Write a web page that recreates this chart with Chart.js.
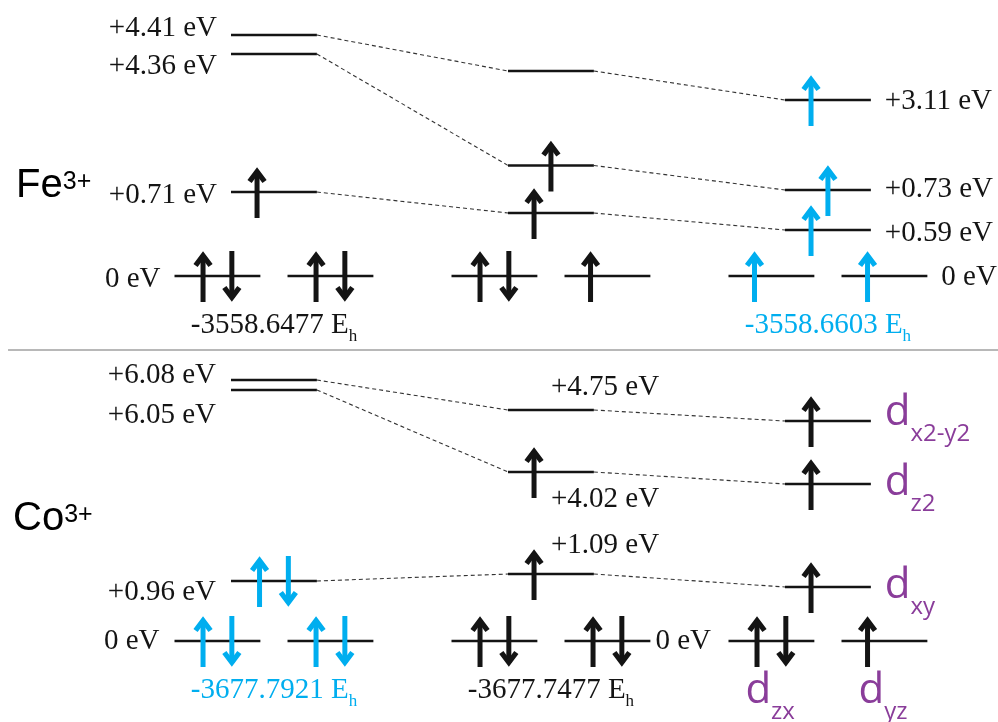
<!DOCTYPE html>
<html>
<head>
<meta charset="utf-8">
<script src="https://cdn.jsdelivr.net/npm/chart.js@4.4.0/dist/chart.umd.min.js"></script>
<style>
  html, body { margin: 0; padding: 0; background: #fff; }
  canvas { display: block; }
</style>
</head>
<body>
<canvas id="diagram" width="998" height="722"></canvas>
<script>
// ===== Fe3+ : d-levels, three columns, each listed top to bottom =====
const feLevelLabels = ['+4.41 eV', '+4.36 eV', '+0.71 eV', '0 eV', '',
                       '', '', '', '', '',
                       '+3.11 eV', '+0.73 eV', '+0.59 eV', '', '0 eV'];
const feUp    = [0, 0, 1, 1, 1,  0, 1, 1, 1, 1,  1, 1, 1, 1, 1];   // spin-up electrons
const feDown  = [0, 0, 0, 1, 1,  0, 0, 0, 1, 0,  0, 0, 0, 0, 0];   // spin-down electrons
const feLinks = [[0, 5], [5, 10], [1, 6], [6, 11], [2, 7], [7, 12]];
const feTotals = ['-3558.6477 E', '', '-3558.6603 E'];

// ===== Co3+ =====
const coLevelLabels = ['+6.08 eV', '+6.05 eV', '+0.96 eV', '0 eV', '',
                       '+4.75 eV', '+4.02 eV', '+1.09 eV', '', '0 eV',
                       '', '', '', '', ''];
const coOrbitals = ['', '', '', '', '',  '', '', '', '', '',
                    'x2-y2', 'z2', 'xy', 'zx', 'yz'];
const coUp    = [0, 0, 1, 1, 1,  0, 1, 1, 1, 1,  1, 1, 1, 1, 1];
const coDown  = [0, 0, 1, 1, 1,  0, 0, 0, 1, 1,  0, 0, 0, 1, 0];
const coLinks = [[0, 5], [5, 10], [1, 6], [6, 11], [2, 7], [7, 12]];
const coTotals = ['-3677.7921 E', '-3677.7477 E', ''];

// ===== layout (diagram units: x = column, y = schematic height above the 0 eV line) =====
const feColumn = [1, 1, 1, 1, 1,  2, 2, 2, 2, 2,  3, 3, 3, 3, 3];
const feSlot   = [0, 0, 0, -1, 1, 0, 0, 0, -1, 1, 0, 0, 0, -1, 1];
const feHeight = [24.1, 22.2, 8.4, 0, 0,  20.5, 11.05, 6.3, 0, 0,  17.6, 8.6, 4.6, 0, 0];
const feUpShift = [null, null, null, null, null,  null, 0, null, null, null,  null, 0, null, null, null];
const feLabelSide = ['L', 'L', 'L', 'L', '',  '', '', '', '', '',  'R', 'R', 'R', '', 'R'];
const feLabelDy   = [1, 20, 11, 11, 0,  0, 0, 0, 0, 0,  9, 7, 11, 0, 9];

const coColumn = feColumn;
const coSlot   = feSlot;
const coHeight = [26.1, 25.1, 6.0, 0, 0,  23.1, 16.9, 6.7, 0, 0,  22.0, 15.7, 5.4, 0, 0];
const coUpShift = [null, null, null, null, null,  null, null, null, null, null,  null, null, null, null, null];
const coLabelSide = ['L', 'L', 'L', 'L', '',  'C', 'C', 'C', '', 'R',  'R', 'R', 'R', 'B', 'B'];
const coLabelDy   = [3, 33, 19, 8, 0,  -15, 35, -21, 0, 8,  4, 11, 11, 62, 62];
const coLabelGap  = [15, 15, 15, 15, 0,  0, 0, 0, 0, 5,  14, 14, 14, 0, 0];

const FE_BASE = 44.6, CO_BASE = 8.1, RULE_Y = 37.2;
const X_MIN = 0.011, X_MAX = 3.614, Y_MAX = 72.2;
const PAIR = 0.204, HALF = 0.155;
const SINGLE_UP = -0.061, PAIR_UP = -0.052, PAIR_DOWN = 0.052;

const INK = '#141414', BLUE = '#00aeef', PURPLE = '#8a3d9a', DASH = '#333333', RULE = '#a0a0a0';
const SERIF = "'Liberation Serif','Times New Roman',serif";
const SANS = "'Liberation Sans',Arial,sans-serif";
const ORB = "'Open Sans',sans-serif";

const panels = [
  { ion: 'Fe', ionX: 0.069, ionRise: 7.9, base: FE_BASE, column: feColumn, slot: feSlot, height: feHeight,
    up: feUp, down: feDown, upShift: feUpShift, links: feLinks, spin: [INK, INK, BLUE],
    labels: feLevelLabels, side: feLabelSide, dy: feLabelDy, gap: feLabelSide.map(() => 14),
    orbitals: null, totals: feTotals, totalColor: [INK, INK, BLUE] },
  { ion: 'Co', ionX: 0.058, ionRise: 11.1, base: CO_BASE, column: coColumn, slot: coSlot, height: coHeight,
    up: coUp, down: coDown, upShift: coUpShift, links: coLinks, spin: [BLUE, INK, INK],
    labels: coLevelLabels, side: coLabelSide, dy: coLabelDy, gap: coLabelGap,
    orbitals: coOrbitals, totals: coTotals, totalColor: [BLUE, INK, INK] }
];

const cx = (p, i) => p.column[i] + p.slot[i] * PAIR;
const cy = (p, i) => p.base + p.height[i];

// ---- datasets: level bars, dashed correlation lines, panel rule ----
const datasets = [];
panels.forEach(p => {
  p.height.forEach((h, i) => {
    datasets.push({ data: [{ x: cx(p, i) - HALF, y: cy(p, i) }, { x: cx(p, i) + HALF, y: cy(p, i) }],
      borderColor: INK, borderWidth: 2.4 });
  });
  p.links.forEach(([a, b]) => {
    datasets.push({ data: [{ x: cx(p, a) + HALF, y: cy(p, a) }, { x: cx(p, b) - HALF, y: cy(p, b) }],
      borderColor: DASH, borderWidth: 1.1, borderDash: [4, 3] });
  });
});
datasets.push({ data: [{ x: 0.04, y: RULE_Y }, { x: X_MAX, y: RULE_Y }], borderColor: RULE, borderWidth: 1.5 });
datasets.forEach(d => Object.assign(d, { showLine: true, pointRadius: 0, pointHoverRadius: 0, fill: false, tension: 0 }));

function drawArrow(ctx, x, yLevel, dir, color) {
  const top = yLevel - 25, bottom = yLevel + 26;
  const tip = dir > 0 ? top : bottom, tail = dir > 0 ? bottom : top, s = dir > 0 ? 1 : -1;
  ctx.save();
  ctx.strokeStyle = color; ctx.lineCap = 'butt'; ctx.lineJoin = 'miter';
  ctx.lineWidth = 5;
  ctx.beginPath(); ctx.moveTo(x, tail); ctx.lineTo(x, tip + s * 4); ctx.stroke();
  ctx.lineWidth = 5.2;
  ctx.beginPath(); ctx.moveTo(x - 7.5, tip + s * 14.5); ctx.lineTo(x, tip + s * 4.5); ctx.lineTo(x + 7.5, tip + s * 14.5); ctx.stroke();
  ctx.restore();
}

// parts: [text, font, baseline shift, color]
function drawRich(ctx, parts, x, y, align) {
  let w = 0;
  parts.forEach(pt => { ctx.font = pt[1]; w += ctx.measureText(pt[0]).width; });
  let cur = align === 'right' ? x - w : align === 'center' ? x - w / 2 : x;
  ctx.textAlign = 'left'; ctx.textBaseline = 'alphabetic';
  parts.forEach(pt => {
    ctx.font = pt[1]; ctx.fillStyle = pt[3];
    ctx.fillText(pt[0], cur, y + pt[2]);
    cur += ctx.measureText(pt[0]).width;
  });
}

const decor = {
  id: 'levelDecor',
  afterDatasetsDraw(chart) {
    const ctx = chart.ctx, xs = chart.scales.x, ys = chart.scales.y;
    const px = v => xs.getPixelForValue(v), py = v => ys.getPixelForValue(v);
    panels.forEach(p => {
      // electrons
      p.height.forEach((h, i) => {
        const xc = cx(p, i), yl = py(cy(p, i)), col = p.spin[p.column[i] - 1];
        if (p.up[i]) {
          const shift = p.upShift[i] !== null ? p.upShift[i] : (p.down[i] ? PAIR_UP : SINGLE_UP);
          drawArrow(ctx, px(xc + shift), yl, 1, col);
        }
        if (p.down[i]) drawArrow(ctx, px(xc + PAIR_DOWN), yl, -1, col);
      });
      // level energies and orbital names
      p.height.forEach((h, i) => {
        const yl = py(cy(p, i)) + p.dy[i];
        const left = px(cx(p, i) - HALF), right = px(cx(p, i) + HALF);
        const orb = p.orbitals ? p.orbitals[i] : '';
        if (orb) {
          const parts = [['d', '42px ' + ORB, 0, PURPLE], [orb, '24px ' + ORB, 16, PURPLE]];
          if (p.side[i] === 'B') drawRich(ctx, parts, px(cx(p, i)) - 26, yl, 'left');
          else drawRich(ctx, parts, right + p.gap[i], yl, 'left');
          return;
        }
        const txt = p.labels[i];
        if (!txt) return;
        const parts = [[txt, '29px ' + SERIF, 0, INK]];
        if (p.side[i] === 'L') drawRich(ctx, parts, left - p.gap[i], yl, 'right');
        else if (p.side[i] === 'R') drawRich(ctx, parts, right + p.gap[i], yl, 'left');
        else drawRich(ctx, parts, px(p.column[i]), yl, 'left');
      });
      // total energies under each column
      p.totals.forEach((t, c) => {
        if (!t) return;
        drawRich(ctx, [[t, '29px ' + SERIF, 0, p.totalColor[c]], ['h', '17px ' + SERIF, 8, p.totalColor[c]]],
          px(c + 1), py(p.base) + 57, 'center');
      });
      // ion name
      drawRich(ctx, [[p.ion, '40px ' + SANS, 0, '#000'], ['3+', '25px ' + SANS, -8, '#000']],
        px(p.ionX), py(p.base + p.ionRise), 'left');
    });
  }
};

new Chart(document.getElementById('diagram'), {
  type: 'scatter',
  data: { datasets },
  options: {
    responsive: false,
    animation: false,
    events: [],
    layout: { padding: 0 },
    plugins: { legend: { display: false }, tooltip: { enabled: false } },
    scales: {
      x: { type: 'linear', min: X_MIN, max: X_MAX, display: false },
      y: { type: 'linear', min: 0, max: Y_MAX, display: false }
    }
  },
  plugins: [decor]
});
</script>
</body>
</html>
